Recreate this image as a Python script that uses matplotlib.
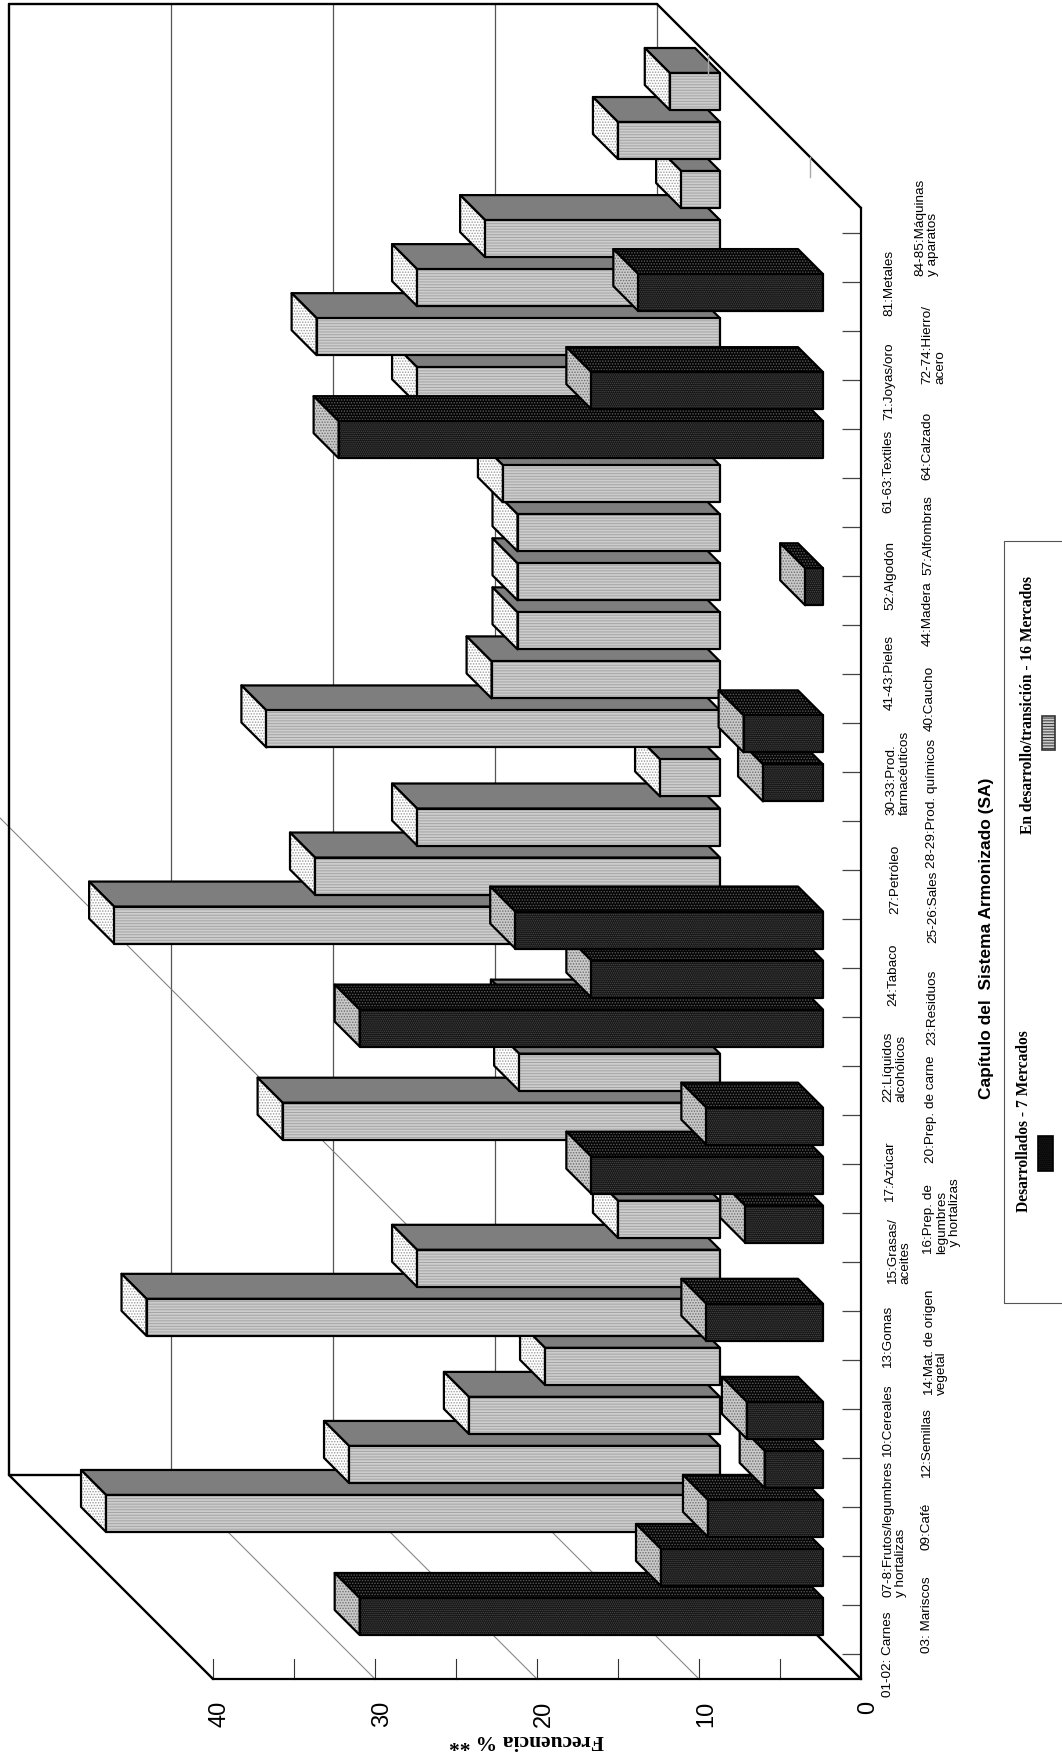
import numpy as np
import matplotlib
matplotlib.use("Agg")
import matplotlib.pyplot as plt
from matplotlib.patches import Polygon, Rectangle
from matplotlib.transforms import ScaledTranslation

plt.rcParams["font.family"] = ["Liberation Sans", "DejaVu Sans"]
plt.rcParams["hatch.linewidth"] = 0.7

W, H = 1062, 1753

# chapter labels, bottom to top
categorias = ["01-02: Carnes", "03: Mariscos", "07-8:Frutos/legumbres\ny hortalizas", "09:Café",
              "10:Cereales", "12:Semillas", "13:Gomas", "14:Mat. de origen\nvegetal",
              "15:Grasas/\naceites", "16:Prep. de\nlegumbres\n  y hortalizas", "17:Azúcar",
              "20:Prep. de carne", "22:Líquidos\nalcohólicos", "23:Residuos", "24:Tabaco",
              "25-26:Sales", "27:Petróleo", "28-29:Prod. químicos", "30-33:Prod.\nfarmacéuticos",
              "40:Caucho", "41-43:Pieles", "44:Madera", "52:Algodón", "57:Alfombras",
              "61-63:Textiles", "64:Calzado", "71:Joyas/oro", "72-74:Hierro/\nacero",
              "81:Metales", "84-85:Máquinas\ny aparatos"]

desarrollados = [28.6, 10.0, 7.1, 3.6, 4.7, 0, 7.2, 0, 4.8, 14.3, 7.2, 0, 28.6, 14.3, 19.0,
                 0, 0, 3.7, 4.9, 0, 0, 1.1, 0, 0, 29.9, 14.3, 0, 11.4, 0, 0]
en_desarrollo = [37.9, 22.9, 15.5, 10.8, 35.4, 18.7, 6.3, 0, 27.0, 12.4, 12.6, 0, 37.4, 25.0, 18.7,
                 3.7, 28.0, 14.1, 12.5, 12.5, 12.5, 13.4, 0, 18.7, 24.9, 18.7, 14.5, 2.4, 6.3, 3.1]

# label centre x and text start y, pixels of the page
label_x = [888, 927, 895, 927, 888, 927, 888, 936, 899, 942, 890, 931, 895, 932, 893,
           933, 895, 932, 898, 930, 890, 928, 890, 928, 888, 927, 889, 934, 889, 927]
label_y = [1697, 1653, 1597, 1550, 1457, 1478, 1368, 1395, 1284, 1254, 1202, 1163, 1102, 1045, 1006,
           943, 914, 868, 815, 731, 710, 646, 610, 575, 513, 480, 420, 384, 316, 276]

px_v = 16.2
px_k = 49.03
prof = 204
ancho = 18.5 / px_k


def xy(v, k, d=0):
    # depth d in pixels goes back and up the page
    return v + d / px_v, k + d / px_k


fig = plt.figure(figsize=(W / 100, H / 100), dpi=100)
ax = fig.add_axes([213 / W, 1 - 1679 / H, 648 / W, 1471 / H])
ax.set_xlim(40, 0)
ax.set_ylim(-0.5, 29.5)
ax.patch.set_alpha(0)

ax.set_xticks([0, 10, 20, 30, 40])
ax.tick_params(axis="x", length=0, pad=16, labelsize=17, labelrotation=90)
desp = ScaledTranslation(7 / 100, 0, fig.dpi_scale_trans)
for t in ax.get_xticklabels():
    t.set_transform(t.get_transform() + desp)
ax.set_yticks(range(30))
ax.yaxis.tick_right()
ax.tick_params(axis="y", direction="in", length=13.5, width=0.9, color="#444444", labelright=False)
ax.spines["top"].set_visible(False)
ax.spines["left"].set_visible(False)
ax.spines["right"].set_linewidth(1.6)
ax.spines["bottom"].set_linewidth(1.6)


def linea(p0, p1, **kw):
    ax.plot([p0[0], p1[0]], [p0[1], p1[1]], clip_on=False, **kw)


# back wall and floor
for v in [0, 10, 20, 30]:
    linea(xy(v, -0.5, prof), xy(v, 29.5, prof), color="#555555", lw=0.9, zorder=1)
for v in [10, 20, 30]:
    linea(xy(v, -0.5), xy(v, -0.5, prof), color="#888888", lw=0.8, zorder=1)
for v in np.arange(5, 45, 5):
    linea(xy(v, -0.5), xy(v, -0.5 + 20 / px_k), color="#333333", lw=0.8, zorder=1)
negro = dict(color="black", lw=1.7, zorder=1.5, solid_capstyle="round")
linea(xy(40, -0.5, prof), xy(40, 29.5, prof), **negro)
linea(xy(0, 29.5, prof), xy(40, 29.5, prof), **negro)
linea(xy(0, -0.5, prof), xy(40, -0.5, prof), **negro)
linea(xy(40, -0.5), xy(40, -0.5, prof), **negro)
linea(xy(0, 29.5), xy(0, 29.5, prof), **negro)
linea(xy(0, -0.5), xy(0, -0.5, prof), **negro)
# the long thin diagonal that runs out of the wall
linea(xy(0, -0.5, prof), xy(0, -0.5, 861), color="#777777", lw=0.7, zorder=1)
ax.set_clip_on(False)


def cara(puntos, fondo, trama, color_trama, z):
    ax.add_patch(Polygon(puntos, closed=True, facecolor=fondo, edgecolor=color_trama,
                         hatch=trama, lw=0, clip_on=False, zorder=z))
    ax.add_patch(Polygon(puntos, closed=True, fill=False, edgecolor="black",
                         lw=1.6, joinstyle="round", clip_on=False, zorder=z))


def barra(val, k, d0, estilo, z):
    d1 = d0 + 25
    arr = k + ancho
    aba = k - ancho
    cara([xy(0, arr, d0), xy(val, arr, d0), xy(val, arr, d1), xy(0, arr, d1)], *estilo["arriba"], z)
    cara([xy(val, aba, d0), xy(val, arr, d0), xy(val, arr, d1), xy(val, aba, d1)], *estilo["lado"], z)
    cara([xy(0, aba, d0), xy(val, aba, d0), xy(val, arr, d0), xy(0, arr, d0)], *estilo["frente"], z)


claro = {"frente": ("#cdcdcd", "------", "#a4a4a4"),
         "arriba": ("#7e7e7e", None, "#7e7e7e"),
         "lado": ("#ffffff", "......", "#9a9a9a")}
oscuro = {"frente": ("#141414", "........", "#4a4a4a"),
          "arriba": ("#040404", "......", "#5a5a5a"),
          "lado": ("#cacaca", "......", "#6e6e6e")}

z = 2.0
for k, val in enumerate(en_desarrollo):
    if val > 0:
        barra(val, k, 141, claro, z)
        z += 0.001
z = 2.5
for k, val in enumerate(desarrollados):
    if val > 0:
        barra(val, k, 38, oscuro, z)
        z += 0.001

# depth ticks of the two series
for d in [51, 153]:
    linea(xy(0, 29.5, d), xy(0, 29.5 - 20 / px_k, d), color="#aaaaaa", lw=1.0, zorder=3)

for nombre, x, y in zip(categorias, label_x, label_y):
    fig.text(x / W, 1 - y / H, nombre, rotation=90, ha="center", va="bottom",
             multialignment="left", fontsize=9.7, linespacing=1.1)

fig.text(526 / W, 1 - 1740 / H, "Frecuencia % **", rotation=180, ha="center", va="center",
         family="Liberation Serif", weight="bold", fontsize=15.5)
fig.text(986 / W, 1 - 938 / H, "Capítulo del  Sistema Armonizado (SA)", rotation=90, ha="center", va="center",
         weight="bold", fontsize=12.5)

# legend
fig.add_artist(Rectangle((1004 / W, 1 - 1303 / H), 80 / W, 762 / H, fill=False, edgecolor="#555555", lw=0.8,
                         transform=fig.transFigure))
fig.text(1024 / W, 1 - 1121 / H, "Desarrollados - 7 Mercados", rotation=90, ha="center", va="center",
         family="Liberation Serif", weight="bold", fontsize=11.2)
fig.text(1028 / W, 1 - 705 / H, "En desarrollo/transición - 16 Mercados", rotation=90, ha="center", va="center",
         family="Liberation Serif", weight="bold", fontsize=11.2)
fig.add_artist(Rectangle((1038 / W, 1 - 1171 / H), 15 / W, 35 / H, facecolor="#141414", edgecolor="black", lw=1.2,
                         hatch="........", transform=fig.transFigure))
fig.add_artist(Rectangle((1042 / W, 1 - 750 / H), 13 / W, 34 / H, facecolor="#cdcdcd", edgecolor="#333333", lw=1.2,
                         hatch="------", transform=fig.transFigure))

fig.savefig("out.png", dpi=100)
